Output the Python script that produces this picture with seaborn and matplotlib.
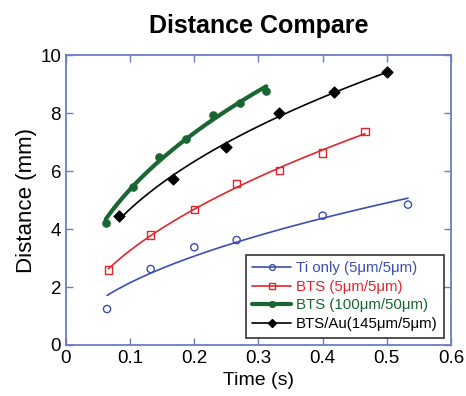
import matplotlib
matplotlib.use('Agg')
import matplotlib.pyplot as plt
import numpy as np
import pandas as pd
import seaborn as sns
from matplotlib.lines import Line2D

# Data
ti_time = [0.064, 0.132, 0.200, 0.266, 0.400, 0.533]
ti_dist = [1.24, 2.62, 3.37, 3.62, 4.46, 4.84]

bts5_time = [0.066, 0.132, 0.200, 0.266, 0.333, 0.400, 0.466]
bts5_dist = [2.59, 3.79, 4.68, 5.57, 6.02, 6.62, 7.37]

bts100_time = [0.062, 0.104, 0.145, 0.187, 0.229, 0.271, 0.312]
bts100_dist = [4.20, 5.45, 6.48, 7.11, 7.93, 8.36, 8.77]

btsau_time = [0.083, 0.166, 0.249, 0.332, 0.417, 0.500]
btsau_dist = [4.46, 5.71, 6.83, 8.01, 8.71, 9.40]

labels = ['Ti only (5\u03bcm/5\u03bcm)', 'BTS (5\u03bcm/5\u03bcm)',
          'BTS (100\u03bcm/50\u03bcm)', 'BTS/Au(145\u03bcm/5\u03bcm)']

sns.set_style('ticks', {'text.color': 'black', 'axes.labelcolor': 'black'})
plt.rcParams['font.family'] = ['Liberation Sans', 'DejaVu Sans']

spine_col = '#6a7cc4'
series = [
    # time, dist, colour, marker, filled, marker size, line width
    (ti_time, ti_dist, '#3a4fb0', 'o', False, 5.2, 1.2),
    (bts5_time, bts5_dist, '#e0262c', 's', False, 5.4, 1.2),
    (bts100_time, bts100_dist, '#1a6632', 'o', True, 5.2, 3.0),
    (btsau_time, btsau_dist, '#000000', 'D', True, 5.5, 1.2),
]


def power_fit(x, y):
    # least-squares fit of y = a * x^b (scan b, a solved directly)
    best = None
    for b in np.linspace(0.05, 1.5, 2901):
        xb = x ** b
        a = (y * xb).sum() / (xb * xb).sum()
        err = ((y - a * xb) ** 2).sum()
        if best is None or err < best[0]:
            best = (err, a, b)
    return best[1], best[2]


fig, ax = plt.subplots(figsize=(4.66, 3.96), dpi=100)
fig.subplots_adjust(left=0.1416, right=0.9678, bottom=0.1288, top=0.861)

handles = []
for (t, d, col, mk, filled, ms, lw), lab in zip(series, labels):
    df = pd.DataFrame({'time': t, 'dist': d})
    a, b = power_fit(df.time.values, df.dist.values)
    xs = np.linspace(df.time.min(), df.time.max(), 100)
    fit = pd.DataFrame({'time': xs, 'dist': a * xs ** b})
    sns.lineplot(data=fit, x='time', y='dist', color=col, lw=lw, ax=ax)
    sns.scatterplot(data=df, x='time', y='dist', marker=mk, s=ms ** 2,
                    facecolor=col if filled else 'none', edgecolor=col,
                    linewidth=1.0, ax=ax, zorder=3)
    handles.append(Line2D([0], [0], color=col, lw=lw, marker=mk,
                          markersize=ms * 0.8,
                          markerfacecolor=col if filled else 'none',
                          markeredgecolor=col))

ax.set_xlim(0, 0.6)
ax.set_ylim(0, 10)
ax.set_xticks(np.arange(0, 0.61, 0.1))
ax.set_xticklabels(['0', '0.1', '0.2', '0.3', '0.4', '0.5', '0.6'])
ax.set_yticks(range(0, 11, 2))
ax.tick_params(direction='in', length=5, width=1, colors=spine_col,
               labelcolor='black', labelsize=13.5, top=True, right=True)
for s in ax.spines.values():
    s.set_visible(True)
    s.set_color(spine_col)
    s.set_linewidth(1.3)

ax.set_xlabel('Time (s)', fontsize=14, color='black')
ax.set_ylabel('Distance (mm)', fontsize=16, labelpad=2, color='black')
ax.set_title('Distance Compare', fontsize=18, fontweight='bold', pad=16,
             color='black')

leg = ax.legend(handles, labels, loc='lower right', bbox_to_anchor=(0.983, 0.025),
                fontsize=10.8, frameon=True, fancybox=False, handlelength=2.6,
                handletextpad=0.3, labelspacing=0.3, borderpad=0.45,
                borderaxespad=0)
leg.get_frame().set_edgecolor('black')
leg.get_frame().set_linewidth(1.2)
for txt, (_, _, col, *_rest) in zip(leg.get_texts(), series):
    txt.set_color(col)

fig.savefig('out.png', dpi=100)
